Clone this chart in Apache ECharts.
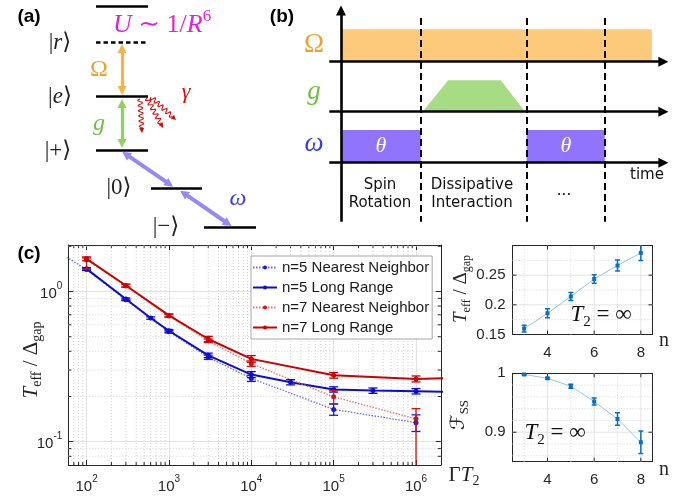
<!DOCTYPE html>
<html><head><meta charset="utf-8">
<script src="https://cdn.jsdelivr.net/npm/echarts@6.0.0/dist/echarts.min.js"></script>
<style>html,body{margin:0;padding:0;background:#fff;}#chart{width:695px;height:498px;}</style>
</head><body><div id="chart"></div>
<script>
// ================= DATA =================
// Panel (c) main: T_eff/Δgap versus ΓT2
const gt2_n5NN = [30, 100, 300, 1000, 3000, 10000, 100000, 1000000];
const teff_n5NN = [2.10, 1.40, 0.880, 0.540, 0.365, 0.264, 0.164, 0.134];
const errLo_n5NN = [0, 0.02, 0.012, 0.010, 0.012, 0.012, 0.014, 0.017];
const errHi_n5NN = [0, 0.02, 0.012, 0.010, 0.012, 0.012, 0.014, 0.017];

const gt2_n5LR = [100, 300, 600, 1000, 3000, 10000, 30000, 100000, 300000, 1000000, 3000000];
const teff_n5LR = [1.415, 0.891, 0.666, 0.548, 0.376, 0.280, 0.249, 0.223, 0.219, 0.217, 0.214];
const err_n5LR = [0.025, 0.015, 0.012, 0.011, 0.013, 0.013, 0.010, 0.009, 0.009, 0.009, 0];

const gt2_n7NN = [100, 300, 1000, 3000, 10000, 100000, 1000000];
const teff_n7NN = [1.63, 1.09, 0.688, 0.470, 0.331, 0.199, 0.142];
const errLo_n7NN = [0.22, 0.02, 0.013, 0.013, 0.014, 0.020, 0.10];
const errHi_n7NN = [0.04, 0.02, 0.013, 0.013, 0.014, 0.020, 0.024];

const gt2_n7LR = [100, 300, 1000, 3000, 10000, 100000, 1000000, 3000000];
const teff_n7LR = [1.65, 1.096, 0.693, 0.483, 0.356, 0.277, 0.262, 0.266];
const err_n7LR = [0.05, 0.025, 0.016, 0.020, 0.018, 0.012, 0.012, 0];

const seriesNames = ['n=5 Nearest Neighbor', 'n=5 Long Range', 'n=7 Nearest Neighbor', 'n=7 Long Range'];

// Panel (c) right: T2 = ∞ versus n
const nVals = [3, 4, 5, 6, 7, 8];
const teffInf = [0.160, 0.1858, 0.2141, 0.2436, 0.2663, 0.2876];
const teffInfErr = [0.0057, 0.0074, 0.0068, 0.0071, 0.0094, 0.0128];
const fidInf = [0.998, 0.9915, 0.978, 0.952, 0.9225, 0.883];
const fidInfErr = [0.001, 0.0015, 0.0034, 0.006, 0.0105, 0.019];

// Tick labels
const mainXTickExp = [2, 3, 4, 5, 6];
const mainYTickExp = [-1, 0];
const nTickLabels = [4, 6, 8];
const teffTickLabels = [0.15, 0.2, 0.25];
const fidTickLabels = [0.9, 1];

// Panel (a): level scheme (diagram units)
const levelX0 = [96, 96, 96, 96, 151, 204];
const levelX1 = [148, 148, 148, 148, 202, 256];
const levelY = [6, 42.3, 96.7, 150, 188.3, 227.3];
const levelDashed = [false, true, false, false, false, false];

// Panel (b): pulse sequence (time units)
const phaseBounds = [1, 2.33, 3.31];
const omegaPulses = [[0, 1], [2.33, 3.31]];
const rabiEnd = 3.9;
const gPulseT = [1.025, 1.345, 2.005, 2.31];
const gPulseAmp = [0, 1, 1, 0];

// ================= STYLE =================
const SERIF = '"Liberation Serif", "DejaVu Serif", serif';
const SANS = '"Liberation Sans", Arial, Helvetica, sans-serif';
const DJ = '"DejaVu Sans", Verdana, sans-serif';
const AX = '#262626';

const chart = echarts.init(document.getElementById('chart'), null, {renderer: 'canvas', width: 695, height: 498});

// ---------- helpers ----------
function errRender(cap, lw) {
  return function (params, api) {
    const x = api.value(0), lo = api.value(1), hi = api.value(2);
    if (!(hi > lo)) return;
    const a = api.coord([x, lo]), b = api.coord([x, hi]);
    const st = {stroke: api.visual('color'), lineWidth: lw};
    return {type: 'group', children: [
      {type: 'line', shape: {x1: a[0], y1: a[1], x2: b[0], y2: b[1]}, style: st},
      {type: 'line', shape: {x1: a[0] - cap, y1: a[1], x2: a[0] + cap, y2: a[1]}, style: st},
      {type: 'line', shape: {x1: b[0] - cap, y1: b[1], x2: b[0] + cap, y2: b[1]}, style: st}
    ]};
  };
}
function decorRender(xr, yr) {
  return function (params, api) {
    const ax = api.value(2), g = api.value(3), tl = api.value(4);
    let p1, p2;
    if (ax === 0) { const v = api.value(0); p1 = api.coord([v, yr[0]]); p2 = api.coord([v, yr[1]]); }
    else { const v = api.value(1); p1 = api.coord([xr[0], v]); p2 = api.coord([xr[1], v]); }
    const ch = [];
    if (g) ch.push({type: 'line', shape: {x1: p1[0], y1: p1[1], x2: p2[0], y2: p2[1]},
      style: {stroke: g === 1 ? '#e3e3e3' : '#d2d2d2', lineWidth: 1, lineDash: g === 2 ? [1, 2] : null}});
    if (tl) {
      const st = {stroke: AX, lineWidth: 1};
      if (ax === 0) {
        ch.push({type: 'line', shape: {x1: p1[0], y1: p1[1], x2: p1[0], y2: p1[1] - tl}, style: st});
        ch.push({type: 'line', shape: {x1: p2[0], y1: p2[1], x2: p2[0], y2: p2[1] + tl}, style: st});
      } else {
        ch.push({type: 'line', shape: {x1: p1[0], y1: p1[1], x2: p1[0] + tl, y2: p1[1]}, style: st});
        ch.push({type: 'line', shape: {x1: p2[0], y1: p2[1], x2: p2[0] - tl, y2: p2[1]}, style: st});
      }
    }
    return {type: 'group', children: ch};
  };
}
function powLabel(v) {
  const e = Math.log10(v), r = Math.round(e);
  if (Math.abs(e - r) > 1e-6) return '';
  return '{b|10}{s|' + r + '}';
}
const powRich = {
  b: {fontSize: 15, fontFamily: SANS, color: AX, lineHeight: 20, verticalAlign: 'bottom'},
  s: {fontSize: 10, fontFamily: SANS, color: AX, lineHeight: 11, verticalAlign: 'top'}
};

// ---------- Panel (c) main axes ----------
const cX = [60, 2e6], cY = [0.07, 2.04];
const cDecor = [];
for (let d = 1; d <= 6; d++) for (let k = 2; k <= 9; k++) {
  const v = k * Math.pow(10, d);
  if (v > cX[0] && v < cX[1]) cDecor.push([v, 0.3, 0, 2, 3]);
}
for (let d = -2; d <= 0; d++) for (let k = 2; k <= 9; k++) {
  const v = k * Math.pow(10, d);
  if (v > cY[0] && v < cY[1]) cDecor.push([1000, v, 1, 2, 3]);
}
const r1X = [2.5, 8.5], r1Y = [0.15, 0.3], r2Y = [0.85, 1];
const r1Decor = [[3,0.2,0,2,0],[5,0.2,0,2,0],[7,0.2,0,2,0],[4,0.2,0,1,4],[6,0.2,0,1,4],[8,0.2,0,1,4],
  [5,0.175,1,2,0],[5,0.225,1,2,0],[5,0.275,1,2,0],[5,0.2,1,1,4],[5,0.25,1,1,4]];
const r2Decor = [[3,0.9,0,2,0],[5,0.9,0,2,0],[7,0.9,0,2,0],[4,0.9,0,1,4],[6,0.9,0,1,4],[8,0.9,0,1,4],
  [5,0.86,1,2,0],[5,0.88,1,2,0],[5,0.92,1,2,0],[5,0.94,1,2,0],[5,0.96,1,2,0],[5,0.98,1,2,0],[5,0.9,1,1,4]];

function boxAxis(grid, type, min, max, pos, extra) {
  return Object.assign({
    gridIndex: grid, type: type, min: min, max: max, position: pos,
    axisLine: {show: true, onZero: false, lineStyle: {color: AX, width: 1}},
    axisTick: {show: false}, axisLabel: {show: false}, splitLine: {show: false}, minorTick: {show: false}
  }, extra || {});
}
const nLabelFmt = v => nTickLabels.indexOf(Math.round(v * 1000) / 1000) >= 0 ? String(Math.round(v)) : '';
const xAxes = [
  {gridIndex: 0, type: 'value', min: 0, max: 260, show: false},
  {gridIndex: 1, type: 'value', min: -1.0163, max: 4.4417, show: false},
  boxAxis(2, 'log', cX[0], cX[1], 'bottom', {
    axisTick: {show: true, inside: true, length: 5, lineStyle: {color: AX}},
    axisLabel: {show: true, formatter: powLabel, rich: powRich, margin: 9, showMinLabel: true, showMaxLabel: true},
    splitLine: {show: true, lineStyle: {color: '#e3e3e3', width: 1}}
  }),
  boxAxis(2, 'log', cX[0], cX[1], 'top', {axisTick: {show: true, inside: true, length: 5, lineStyle: {color: AX}}}),
  boxAxis(3, 'value', r1X[0], r1X[1], 'bottom', {interval: 0.5, axisLabel: {show: true, margin: 11, fontSize: 15, fontFamily: SANS, color: AX, formatter: nLabelFmt}}),
  boxAxis(3, 'value', r1X[0], r1X[1], 'top', {interval: 0.5}),
  boxAxis(4, 'value', r1X[0], r1X[1], 'bottom', {interval: 0.5, axisLabel: {show: true, margin: 11, fontSize: 15, fontFamily: SANS, color: AX, formatter: nLabelFmt}}),
  boxAxis(4, 'value', r1X[0], r1X[1], 'top', {interval: 0.5})
];
const yAxes = [
  {gridIndex: 0, type: 'value', min: 0, max: 240, inverse: true, show: false},
  {gridIndex: 1, type: 'value', min: 0, max: 240, inverse: true, show: false},
  boxAxis(2, 'log', cY[0], cY[1], 'left', {
    axisTick: {show: true, inside: true, length: 5, lineStyle: {color: AX}},
    axisLabel: {show: true, formatter: powLabel, rich: powRich, margin: 6},
    splitLine: {show: true, lineStyle: {color: '#e3e3e3', width: 1}}
  }),
  boxAxis(2, 'log', cY[0], cY[1], 'right', {axisTick: {show: true, inside: true, length: 5, lineStyle: {color: AX}}}),
  boxAxis(3, 'value', r1Y[0], r1Y[1], 'left', {interval: 0.05, axisLabel: {show: true, margin: 7, fontSize: 15, fontFamily: SANS, color: AX,
    formatter: v => { const r = Math.round(v * 1000) / 1000; return teffTickLabels.indexOf(r) >= 0 ? String(r) : ''; }}}),
  boxAxis(3, 'value', r1Y[0], r1Y[1], 'right', {interval: 0.05}),
  boxAxis(4, 'value', r2Y[0], r2Y[1], 'left', {interval: 0.05, axisLabel: {show: true, margin: 7, fontSize: 15, fontFamily: SANS, color: AX,
    formatter: v => { const r = Math.round(v * 1000) / 1000; return fidTickLabels.indexOf(r) >= 0 ? String(r) : ''; }}}),
  boxAxis(4, 'value', r2Y[0], r2Y[1], 'right', {interval: 0.05})
];

// ---------- series ----------
const series = [];
series.push({type: 'custom', xAxisIndex: 2, yAxisIndex: 2, silent: true, z: 1, data: cDecor, renderItem: decorRender(cX, cY), encode: {x: 0, y: 1}});
series.push({type: 'custom', xAxisIndex: 4, yAxisIndex: 4, silent: true, z: 1, data: r1Decor, renderItem: decorRender(r1X, r1Y), encode: {x: 0, y: 1}});
series.push({type: 'custom', xAxisIndex: 6, yAxisIndex: 6, silent: true, z: 1, data: r2Decor, renderItem: decorRender(r1X, r2Y), encode: {x: 0, y: 1}});

function addMain(name, xs, ys, lo, hi, lineColor, dotted, lw, markColor) {
  series.push({type: 'line', name: name, xAxisIndex: 2, yAxisIndex: 2, clip: true, z: 3,
    data: xs.map((x, i) => [x, ys[i]]), symbol: 'circle', symbolSize: 5, showSymbol: true,
    lineStyle: {color: lineColor, width: lw, type: dotted ? [1.5, 1.5] : 'solid'},
    itemStyle: {color: markColor}, emphasis: {disabled: true}});
  series.push({type: 'custom', name: name + ' err', xAxisIndex: 2, yAxisIndex: 2, clip: true, z: 4, silent: true,
    data: xs.map((x, i) => [x, ys[i] - lo[i], ys[i] + hi[i]]), encode: {x: 0, y: [1, 2]},
    itemStyle: {color: markColor}, renderItem: errRender(4.5, 1.3)});
}
addMain(seriesNames[0], gt2_n5NN, teff_n5NN, errLo_n5NN, errHi_n5NN, '#6b6bf0', true, 1.3, '#1a1ad6');
addMain(seriesNames[1], gt2_n5LR, teff_n5LR, err_n5LR, err_n5LR, '#0d0dcc', false, 2, '#0d0dcc');
addMain(seriesNames[2], gt2_n7NN, teff_n7NN, errLo_n7NN, errHi_n7NN, '#ea7070', true, 1.3, '#d01515');
addMain(seriesNames[3], gt2_n7LR, teff_n7LR, err_n7LR, err_n7LR, '#cc0000', false, 2, '#cc0000');

function addSmall(xi, ys, es) {
  series.push({type: 'line', xAxisIndex: xi, yAxisIndex: xi, z: 3, data: nVals.map((n, i) => [n, ys[i]]),
    symbol: 'rect', symbolSize: 4, lineStyle: {color: '#93c4ea', width: 1}, itemStyle: {color: '#0a6fbd'}, emphasis: {disabled: true}});
  series.push({type: 'custom', xAxisIndex: xi, yAxisIndex: xi, z: 4, silent: true, clip: true,
    data: nVals.map((n, i) => [n, ys[i] - es[i], ys[i] + es[i]]), encode: {x: 0, y: [1, 2]},
    itemStyle: {color: '#0a6fbd'}, renderItem: errRender(2.5, 1.5)});
}
addSmall(4, teffInf, teffInfErr);
addSmall(6, fidInf, fidInfErr);

// ---------- Panel (a) ----------
series.push({type: 'lines', coordinateSystem: 'cartesian2d', xAxisIndex: 0, yAxisIndex: 0, silent: true, z: 2,
  lineStyle: {color: '#000', width: 2.7, opacity: 1},
  data: levelY.map((y, i) => ({coords: [[levelX0[i], y], [levelX1[i], y]],
    lineStyle: {type: levelDashed[i] ? [4.5, 3] : 'solid'}}))});
series.push({type: 'lines', coordinateSystem: 'cartesian2d', xAxisIndex: 0, yAxisIndex: 0, silent: true, z: 3,
  symbol: ['triangle', 'triangle'], symbolSize: 9,
  lineStyle: {width: 3.2, opacity: 1},
  data: [
    {coords: [[122, 48.5], [122, 90.5]], lineStyle: {color: '#f8b24a'}},
    {coords: [[122, 103.5], [122, 143.5]], lineStyle: {color: '#8dd35f'}},
    {coords: [[125.8, 154.2], [169.5, 184.2]], lineStyle: {color: '#9a87f6', width: 4}},
    {coords: [[183.8, 193.2], [227.9, 223.5]], lineStyle: {color: '#9a87f6', width: 4}}
  ]});
const gammaArrows = [[140, 99, 142, 133], [147, 98, 163, 128], [151, 97, 176, 120]];
series.push({type: 'custom', xAxisIndex: 0, yAxisIndex: 0, silent: true, z: 3, data: gammaArrows, encode: {x: [0, 2], y: [1, 3]},
  renderItem: function (params, api) {
    const p0 = api.coord([api.value(0), api.value(1)]), p1 = api.coord([api.value(2), api.value(3)]);
    const dx = p1[0] - p0[0], dy = p1[1] - p0[1], L = Math.hypot(dx, dy);
    const ux = dx / L, uy = dy / L, nx = -uy, ny = ux, head = 5, bodyL = L - head;
    const pts = [];
    for (let s = 0; s <= bodyL; s += 0.5) {
      const w = 2.3 * Math.sin(2 * Math.PI * s / 5.2);
      pts.push([p0[0] + ux * s + nx * w, p0[1] + uy * s + ny * w]);
    }
    const b = [p0[0] + ux * bodyL, p0[1] + uy * bodyL];
    return {type: 'group', children: [
      {type: 'polyline', shape: {points: pts}, style: {stroke: '#cc1010', lineWidth: 1.1, fill: null}},
      {type: 'polygon', shape: {points: [p1, [b[0] + nx * 2.6, b[1] + ny * 2.6], [b[0] - nx * 2.6, b[1] - ny * 2.6]]}, style: {fill: '#cc1010'}}
    ]};
  }});

// ---------- Panel (b) ----------
const bRects = [[0, rabiEnd, 29.3, 61.7, 0]].concat(omegaPulses.map(p => [p[0], p[1], 130, 162.7, 1]));
const bColors = ['#fdc97a', '#9174fe'];
series.push({type: 'custom', xAxisIndex: 1, yAxisIndex: 1, silent: true, z: 1, data: bRects, encode: {x: [0, 1], y: [2, 3]},
  renderItem: function (params, api) {
    const a = api.coord([api.value(0), api.value(2)]), b = api.coord([api.value(1), api.value(3)]);
    return {type: 'rect', shape: {x: a[0], y: a[1], width: b[0] - a[0], height: b[1] - a[1]}, style: {fill: bColors[api.value(4)]}};
  }});
series.push({type: 'custom', xAxisIndex: 1, yAxisIndex: 1, silent: true, z: 1, data: [[gPulseT[0], 111.7]], encode: {x: 0, y: 1},
  renderItem: function (params, api) {
    const pts = gPulseT.map((t, i) => api.coord([t, 111.7 - gPulseAmp[i] * 31.4]));
    return {type: 'polygon', shape: {points: pts}, style: {fill: '#a6dc84'}};
  }});
series.push({type: 'lines', coordinateSystem: 'cartesian2d', xAxisIndex: 1, yAxisIndex: 1, silent: true, z: 2,
  symbol: ['none', 'triangle'], symbolSize: 10, lineStyle: {color: '#000', width: 2.6, opacity: 1},
  data: [
    {coords: [[0, 221.7], [0, 10.5]]},
    {coords: [[-0.147, 61.7], [4.045, 61.7]]},
    {coords: [[-0.147, 111.7], [4.045, 111.7]]},
    {coords: [[-0.147, 162.7], [4.045, 162.7]]}
  ]});
series.push({type: 'lines', coordinateSystem: 'cartesian2d', xAxisIndex: 1, yAxisIndex: 1, silent: true, z: 3,
  lineStyle: {color: '#000', width: 2, type: [7, 4], opacity: 1},
  data: phaseBounds.map(t => ({coords: [[t, 18], [t, 221.7]]}))});

// ---------- text ----------
const texts = [];
function T(x, y, text, size, color, opt) {
  opt = opt || {};
  const fam = opt.family || SERIF;
  const L = Math.round(size * 1.25);
  const ss = Math.round(size * 0.65);
  const rich = {
    i: {fontStyle: 'italic', fontSize: size, fontFamily: fam, fill: color, lineHeight: L},
    r: {fontSize: size, fontFamily: fam, fill: color, lineHeight: L},
    b: {fontWeight: 'bold', fontSize: size, fontFamily: fam, fill: color, lineHeight: L},
    d: {fontSize: size, fontFamily: '"DejaVu Serif", "DejaVu Sans", serif', fill: color, lineHeight: L},
    sub: {fontSize: ss, fontFamily: fam, fill: color, lineHeight: ss, verticalAlign: 'bottom'},
    sup: {fontSize: ss, fontFamily: fam, fill: color, lineHeight: ss, verticalAlign: 'top'}
  };
  texts.push({type: 'text', x: x, y: y, rotation: opt.rot || 0, z: 100, silent: true,
    style: {text: text, rich: rich, fill: color, fontSize: size, fontFamily: fam, fontWeight: opt.weight || 'normal',
      align: opt.align || 'center', verticalAlign: 'middle', lineHeight: L}});
}
// panel labels
T(29, 17, '(a)', 19, '#000', {family: SANS, weight: 'bold'});
T(282, 17, '(b)', 19, '#000', {family: SANS, weight: 'bold'});
T(29, 254, '(c)', 19, '#000', {family: SANS, weight: 'bold'});
// (a)
T(113, 25, '{i|U}{r| ∼ 1/}{i|R}{sup|6}', 26, '#dd22dd', {align: 'left'});
T(60, 43, '{r||}{i|r}{d|⟩}', 23, '#222');
T(60, 97, '{r||}{i|e}{d|⟩}', 23, '#222');
T(58, 151, '{r||+}{d|⟩}', 23, '#222');
T(119, 188, '{r||0}{d|⟩}', 23, '#222');
T(166, 227, '{r||−}{d|⟩}', 23, '#222');
T(99, 70, 'Ω', 24, '#f0a030');
T(99, 124, '{i|g}', 24, '#6cc040');
T(186, 92, '{i|γ}', 22, '#d01010');
T(238, 199, '{i|ω}', 24, '#3a3af0');
// (b)
T(314, 45, 'Ω', 27, '#f0a030');
T(314, 92, '{i|g}', 27, '#6cc040');
T(314, 144, '{i|ω}', 27, '#3a3af0');
T(380.9, 146.5, '{i|θ}', 22, '#ffffff');
T(565.9, 146.5, '{i|θ}', 22, '#ffffff');
T(647, 175, 'time', 15, '#111', {family: DJ});
T(380, 185, 'Spin', 15, '#111', {family: DJ});
T(380, 203, 'Rotation', 15, '#111', {family: DJ});
T(472, 185, 'Dissipative', 15, '#111', {family: DJ});
T(472, 203, 'Interaction', 15, '#111', {family: DJ});
T(564, 191, '...', 15, '#111', {family: DJ});
// (c)
T(31, 360, '{i|T}{sub|eff}{r| / Δ}{sub|gap}', 21, AX, {rot: Math.PI / 2});
T(464, 475, '{r|Γ}{i|T}{sub|2}', 21, AX);
T(461, 289, '{i|T}{sub|eff}{r| / Δ}{sub|gap}', 19, AX, {rot: Math.PI / 2});
T(459, 415, '{d|ℱ}{sub|SS}', 20, AX, {rot: Math.PI / 2});
T(664, 341, 'n', 20, AX);
T(664, 470, 'n', 20, AX);
T(601, 315, '{i|T}{sub|2}{r| = ∞}', 23, '#111');
T(555, 433, '{i|T}{sub|2}{r| = ∞}', 23, '#111');

const option = {
  animation: false,
  backgroundColor: '#fff',
  grid: [
    {left: 0, top: 0, width: 260, height: 240, outerBoundsMode: 'none'},
    {left: 260, top: 0, width: 435, height: 240, outerBoundsMode: 'none'},
    {left: 68.3, top: 245, width: 372.5, height: 220, outerBoundsMode: 'none'},
    {left: 512.5, top: 245.5, width: 140, height: 89, outerBoundsMode: 'none'},
    {left: 512.5, top: 373.3, width: 140, height: 88.4, outerBoundsMode: 'none'}
  ],
  xAxis: xAxes,
  yAxis: yAxes,
  legend: {
    show: true, data: seriesNames, orient: 'vertical', left: 251, top: 256,
    itemWidth: 24, itemHeight: 5, itemGap: 5, padding: [4, 3, 4, 1],
    backgroundColor: '#fff', borderColor: '#a6a6a6', borderWidth: 1, borderRadius: 0,
    selectedMode: false,
    textStyle: {fontSize: 15, fontFamily: SANS, color: '#1a1a1a', lineHeight: 15}
  },
  series: series,
  graphic: {elements: texts}
};
chart.setOption(option);
</script></body></html>
